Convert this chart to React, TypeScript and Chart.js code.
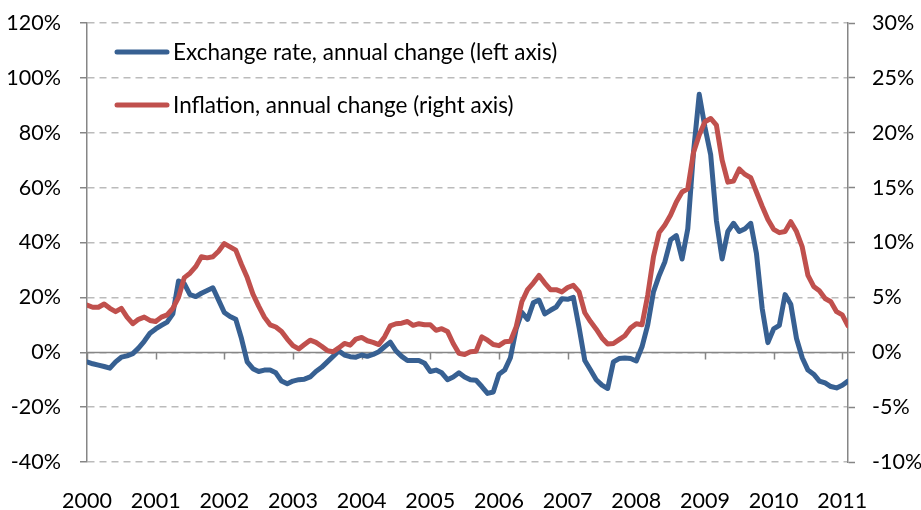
import { useEffect, useRef } from 'react';
import { Chart, registerables } from 'chart.js';

Chart.register(...registerables);

// Monthly data, Jan 2000 .. Feb 2011 (134 months)
const exchangeRate = [
  -3.5, -4.2, -4.7, -5.2, -5.8, -3.5, -1.8, -1.3, -0.5, 1.5,
  4, 6.9, 8.5, 9.8, 11, 14, 26, 25, 21, 20.3,
  21.5, 22.5, 23.5, 19, 14.5, 13, 12, 5, -3.5, -6,
  -7, -6.5, -6.5, -7.5, -10.5, -11.5, -10.5, -10, -9.8, -9,
  -7, -5.5, -3.5, -1.5, 0.5, -1, -1.6, -1.8, -1, -1.5,
  -0.8, 0.2, 2, 3.7, 0.5, -1.5, -3, -3, -3, -4,
  -7, -6.5, -7.5, -10, -9, -7.5, -9, -10, -10.2, -12.5,
  -15, -14.5, -8, -6.5, -2, 8.5, 14.5, 12, 18, 19,
  14, 15.3, 16.5, 19.5, 19.3, 20, 9, -3, -6.5, -10,
  -12, -13.2, -3.5, -2.3, -2.1, -2.3, -3.2, 2, 10, 22,
  28, 33, 41, 42.5, 34, 45, 73, 94, 82, 72,
  48, 34, 44, 47, 44, 45, 47, 36, 16, 3.5,
  8.5, 9.8, 21, 17.5, 5, -2, -6.5, -8, -10.5, -11.2,
  -12.5, -13, -12, -10.5,
];

const inflation = [
  4.3, 4.1, 4.1, 4.4, 4.0, 3.7, 4.0, 3.2, 2.6, 3.0,
  3.2, 2.9, 2.8, 3.2, 3.4, 4.0, 5.0, 6.8, 7.2, 7.8,
  8.7, 8.6, 8.7, 9.2, 9.9, 9.6, 9.3, 8.0, 6.8, 5.3,
  4.2, 3.2, 2.5, 2.3, 1.9, 1.2, 0.6, 0.3, 0.7, 1.1,
  0.9, 0.55, 0.15, 0.05, 0.4, 0.8, 0.65, 1.2, 1.35, 1.05,
  0.9, 0.7, 1.4, 2.4, 2.6, 2.65, 2.8, 2.45, 2.6, 2.5,
  2.5, 2.0, 2.15, 1.9, 0.8, -0.1, -0.2, 0.05, 0.1, 1.4,
  1.1, 0.7, 0.6, 0.95, 1.0, 2.3, 4.6, 5.7, 6.3, 7.0,
  6.3, 5.7, 5.7, 5.5, 5.9, 6.1, 5.5, 3.6, 2.8, 2.1,
  1.3, 0.75, 0.8, 1.15, 1.5, 2.2, 2.6, 2.5, 5.2, 8.7,
  10.9, 11.6, 12.5, 13.7, 14.6, 14.9, 18.2, 19.8, 21.0, 21.3,
  20.7, 17.5, 15.5, 15.6, 16.7, 16.2, 15.9, 14.6, 13.3, 12.1,
  11.2, 10.9, 11.0, 11.9, 11.0, 9.6, 7.0, 6.0, 5.6, 4.9,
  4.6, 3.7, 3.4, 2.4,
];

const yearLabels = ['2000', '2001', '2002', '2003', '2004', '2005', '2006', '2007', '2008', '2009', '2010', '2011'];
const yearTickMonths = yearLabels.map((_, i) => i * 12);

const seriesNames = ['Exchange rate, annual change (left axis)', 'Inflation, annual change (right axis)'];
const BLUE = '#376092';
const RED = '#C0504D';
const FONT = 'Lato, "Open Sans", sans-serif';
const TICK_SIZE = 21.5;
const LEGEND_SIZE = 22.5;

const zeroLinePlugin = {
  id: 'zeroLine',
  beforeDatasetsDraw(chart: any) {
    const { ctx, chartArea, scales } = chart;
    const y0 = Math.round(scales.y.getPixelForValue(0)) + 0.5;
    ctx.save();
    ctx.strokeStyle = '#868686';
    ctx.lineWidth = 1.5;
    ctx.beginPath();
    ctx.moveTo(chartArea.left, y0);
    ctx.lineTo(chartArea.right, y0);
    for (const m of yearTickMonths) {
      const x = Math.round(scales.x.getPixelForValue(m)) + 0.5;
      ctx.moveTo(x, y0);
      ctx.lineTo(x, y0 + 7);
    }
    ctx.stroke();
    ctx.restore();
  },
};

const legendPlugin = {
  id: 'insideLegend',
  afterDraw(chart: any) {
    const { ctx } = chart;
    const colors = [BLUE, RED];
    const ys = [52, 105];
    ctx.save();
    ctx.font = `${LEGEND_SIZE}px ${FONT}`;
    ctx.textBaseline = 'middle';
    ctx.textAlign = 'left';
    seriesNames.forEach((name, i) => {
      ctx.strokeStyle = colors[i];
      ctx.lineWidth = 5;
      ctx.lineCap = 'round';
      ctx.beginPath();
      ctx.moveTo(117, ys[i]);
      ctx.lineTo(167, ys[i]);
      ctx.stroke();
      ctx.fillStyle = '#000';
      ctx.fillText(name, 173, ys[i] + 1);
    });
    ctx.restore();
  },
};

const fixVertical = (width: number) => (scale: any) => {
  scale.width = width;
  scale.paddingTop = 0;
  scale.paddingBottom = 0;
};

export default function App() {
  const canvasRef = useRef<HTMLCanvasElement>(null);

  useEffect(() => {
    document.body.style.margin = '0';
    const canvas = canvasRef.current;
    if (!canvas) return;
    const chart = new Chart(canvas, {
      type: 'line',
      data: {
        datasets: [
          {
            label: seriesNames[0],
            data: exchangeRate.map((v, i) => ({ x: i, y: v })),
            borderColor: BLUE,
            backgroundColor: BLUE,
            borderWidth: 5,
            pointRadius: 0,
            tension: 0,
            borderJoinStyle: 'round',
            borderCapStyle: 'round',
            yAxisID: 'y',
            order: 2,
          },
          {
            label: seriesNames[1],
            data: inflation.map((v, i) => ({ x: i, y: v })),
            borderColor: RED,
            backgroundColor: RED,
            borderWidth: 5,
            pointRadius: 0,
            tension: 0,
            borderJoinStyle: 'round',
            borderCapStyle: 'round',
            yAxisID: 'y1',
            order: 1,
          },
        ],
      },
      options: {
        responsive: false,
        animation: false,
        events: [],
        layout: { padding: { top: 23, right: 0, bottom: 0, left: 0 } },
        plugins: {
          legend: { display: false },
          tooltip: { enabled: false },
        },
        scales: {
          x: {
            type: 'linear',
            min: 0,
            max: exchangeRate.length - 1,
            afterBuildTicks: (scale: any) => {
              scale.ticks = yearTickMonths.map((v) => ({ value: v }));
            },
            afterFit: (scale: any) => {
              scale.height = 48;
              scale.paddingLeft = 0;
              scale.paddingRight = 0;
            },
            grid: { display: false, drawTicks: false },
            border: { display: false },
            ticks: {
              autoSkip: false,
              maxRotation: 0,
              padding: 26,
              color: '#000',
              font: { family: FONT, size: TICK_SIZE },
              callback: (v: any) => {
                const idx = yearTickMonths.indexOf(Number(v));
                return idx >= 0 ? yearLabels[idx] : '';
              },
            },
          },
          y: {
            type: 'linear',
            position: 'left',
            min: -40,
            max: 120,
            afterFit: fixVertical(87),
            ticks: {
              stepSize: 20,
              padding: 19,
              color: '#000',
              font: { family: FONT, size: TICK_SIZE },
              callback: (v: any) => `${v}%`,
            },
            grid: {
              color: '#BBBBBB',
              lineWidth: 1.5,
              drawTicks: true,
              tickLength: 7,
              tickColor: '#868686',
              tickWidth: 1.5,
            },
            border: { display: true, color: '#868686', width: 1.5, dash: [7, 5] },
          },
          y1: {
            type: 'linear',
            position: 'right',
            min: -10,
            max: 30,
            afterFit: fixVertical(73),
            ticks: {
              stepSize: 5,
              padding: 17,
              color: '#000',
              font: { family: FONT, size: TICK_SIZE },
              callback: (v: any) => `${v}%`,
            },
            grid: {
              drawOnChartArea: false,
              drawTicks: true,
              tickLength: 7,
              tickColor: '#868686',
              tickWidth: 1.5,
            },
            border: { display: true, color: '#868686', width: 1.5 },
          },
        },
      },
      plugins: [zeroLinePlugin, legendPlugin],
    } as any);
    return () => chart.destroy();
  }, []);

  return (
    <div style={{ width: 921, height: 510, background: '#fff' }}>
      <canvas ref={canvasRef} width={921} height={510} style={{ display: 'block' }} />
    </div>
  );
}
